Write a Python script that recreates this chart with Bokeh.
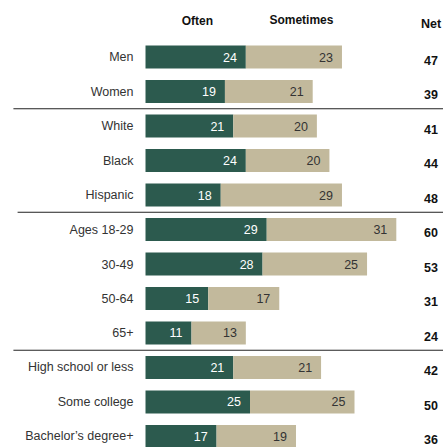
from bokeh.plotting import figure
from bokeh.models import Range1d, ColumnDataSource
from bokeh.embed import file_html
from bokeh.resources import INLINE
from bokeh.core.properties import value

categories = ["Men", "Women", "White", "Black", "Hispanic", "Ages 18-29", "30-49",
              "50-64", "65+", "High school or less", "Some college", "Bachelor\u2019s degree+"]
often = [24, 19, 21, 24, 18, 29, 28, 15, 11, 21, 25, 17]
sometimes = [23, 21, 20, 20, 29, 31, 25, 17, 13, 21, 25, 19]
net = [47, 39, 41, 44, 48, 60, 53, 31, 24, 42, 50, 36]
group_breaks = [1.5, 4.5, 8.5]
break_starts = [-31.6, -30.6, -31.6]

GREEN = "#2c5a4e"
TAN = "#c2b99c"
FONT = "Liberation Sans"

n = len(categories)
ys = [-i for i in range(n)]
totals = [o + s for o, s in zip(often, sometimes)]

p = figure(width=443, height=447, output_backend="svg", toolbar_location=None,
           x_range=Range1d(-34.69, 71.29), y_range=Range1d(-11.319, 1.638),
           min_border=0, outline_line_color=None)
p.axis.visible = False
p.grid.visible = False
p.background_fill_color = "white"
p.border_fill_color = "white"

src = ColumnDataSource(dict(
    y=ys, often=often, total=totals, zero=[0] * n,
    often_lbl=[str(v) for v in often], some_lbl=[str(v) for v in sometimes],
    net_lbl=[str(v) for v in net], cat=categories,
    often_x=[o - 2.15 for o in often], some_x=[t - 2.15 for t in totals],
    net_y=[y - 0.09 for y in ys],
))

p.hbar(y="y", left="zero", right="often", height=0.667, fill_color=GREEN,
       line_color=None, source=src)
p.hbar(y="y", left="often", right="total", height=0.667, fill_color=TAN,
       line_color=None, source=src)

p.text(x="often_x", y="y", text="often_lbl", source=src, text_color="white",
       text_align="right", text_baseline="middle", text_font=value(FONT),
       text_font_size="12.5px")
p.text(x="some_x", y="y", text="some_lbl", source=src, text_color="#333333",
       text_align="right", text_baseline="middle", text_font=value(FONT),
       text_font_size="12.5px")
p.text(x=-2.87, y="y", text="cat", source=src, text_color="#333333",
       text_align="right", text_baseline="middle", text_font=value(FONT),
       text_font_size="12.5px")
p.text(x=68.3, y="net_y", text="net_lbl", source=src, text_color="#111111",
       text_align="center", text_baseline="middle", text_font=value(FONT),
       text_font_size="12.5px", text_font_style="bold")

p.text(x=[12.4, 37.3], y=[1.03, 1.06], text=["Often", "Sometimes"],
       text_color="#111111", text_align="center", text_baseline="middle",
       text_font=value(FONT), text_font_size="12px", text_font_style="bold")
p.text(x=[68.3], y=[0.97], text=["Net"], text_color="#111111", text_align="center",
       text_baseline="middle", text_font=value(FONT), text_font_size="12.5px",
       text_font_style="bold")

for b, x0 in zip(group_breaks, break_starts):
    p.segment(x0=x0, x1=71.29, y0=-b, y1=-b, line_color="#222222", line_width=1)

open("out.html", "w").write(file_html(p, INLINE))
